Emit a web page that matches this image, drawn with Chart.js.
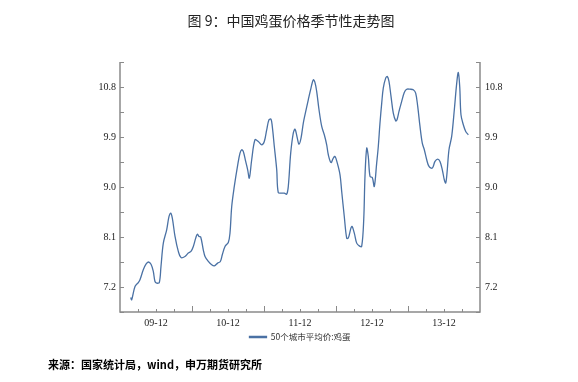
<!DOCTYPE html>
<html>
<head>
<meta charset="utf-8">
<script src="https://cdn.jsdelivr.net/npm/chart.js@4"></script>
<style>
html,body{margin:0;padding:0;background:#fff;}
#wrap{position:relative;width:578px;height:382px;overflow:hidden;}
#c{position:absolute;left:0;top:0;}
#title{position:absolute;top:13px;left:2px;width:578px;text-align:center;font:14px/14px "Noto Sans CJK SC",sans-serif;color:#222;}
#foot{position:absolute;top:359px;left:48px;font:bold 11px/11px "Noto Sans CJK SC",sans-serif;color:#000;white-space:nowrap;}
</style>
</head>
<body>
<div id="wrap">
<canvas id="c" width="578" height="382"></canvas>
<div id="title">图 9：中国鸡蛋价格季节性走势图</div>
<div id="foot">来源：国家统计局，wind，申万期货研究所</div>
</div>
<script>
// months since Jan 2009
const months = [1.78,1.95,2.5,3.05,3.33,3.88,4.33,4.72,5.17,5.55,5.83,6.12,6.55,6.83,7.22,7.78,8.17,8.45,8.72,9.17,
9.72,10.17,10.83,11.38,11.83,12.22,12.62,12.88,13.17,13.45,13.88,14.17,14.72,15.28,15.72,16.28,16.72,17.05,17.5,18.05,
18.33,18.62,19.05,19.62,20.0,20.28,20.55,20.95,21.28,21.55,21.95,22.5,23.05,23.62,24.05,24.45,24.83,25.17,25.38,25.72,
26.12,26.38,26.95,27.38,27.78,28.05,28.45,28.88,29.17,29.55,29.83,30.17,30.55,30.83,31.38,31.83,32.22,32.5,32.78,33.17,
33.62,34.05,34.45,34.72,35.17,35.55,35.83,36.22,36.67,36.95,37.38,37.78,38.05,38.62,39.05,39.45,39.88,40.28,40.62,40.83,
41.12,41.38,41.67,42.05,42.38,42.78,43.05,43.33,43.62,43.88,44.28,44.55,44.83,45.17,45.55,45.95,46.17,46.5,46.95,47.38,
47.78,48.33,48.88,49.28,49.62,50.0,50.38,50.72,51.12,51.5,52.05,52.5,52.95,53.33,53.72,54.05,54.28,54.5,54.83,55.28,
55.72,56.12,56.38,56.62,56.83,57.22,57.62,58.05];
const prices = [7.01,6.97,7.21,7.28,7.33,7.51,7.61,7.65,7.61,7.48,7.30,7.27,7.28,7.57,7.99,8.23,8.47,8.53,8.44,8.11,
7.84,7.73,7.75,7.81,7.84,7.93,8.08,8.15,8.11,8.10,7.87,7.75,7.66,7.60,7.58,7.63,7.66,7.78,7.93,8.00,
8.17,8.65,9.01,9.40,9.61,9.67,9.64,9.46,9.31,9.16,9.49,9.85,9.82,9.76,9.82,10.03,10.21,10.22,10.09,9.73,
9.31,8.90,8.89,8.89,8.87,9.01,9.61,9.97,10.04,9.88,9.77,9.88,10.15,10.30,10.57,10.78,10.93,10.88,10.72,10.39,
10.09,9.94,9.76,9.58,9.44,9.52,9.55,9.43,9.22,8.92,8.47,8.08,8.08,8.29,8.17,7.99,7.94,7.93,8.41,9.19,
9.70,9.55,9.19,9.17,9.01,9.43,9.73,10.15,10.51,10.78,10.96,10.99,10.90,10.63,10.33,10.19,10.21,10.36,10.54,10.70,
10.76,10.76,10.75,10.69,10.45,10.09,9.79,9.67,9.49,9.37,9.34,9.46,9.50,9.46,9.31,9.13,9.07,9.25,9.67,9.91,
10.39,10.87,11.06,10.81,10.30,10.12,10.00,9.94];
const seriesName = '50个城市平均价:鸡蛋';
const xTickPositions = [6, 18, 30, 42, 54];
const xTickLabels = ['09-12', '10-12', '11-12', '12-12', '13-12'];
const yTickValues = [7.2, 8.1, 9.0, 9.9, 10.8];
const yMin = 6.75, yMax = 11.25, yMinorStep = 0.45;
const xMin = 0, xMax = 60, xMinorStep = 3, xMajorStep = 12;

const lineColor = '#4a71a4';
const axisColor = '#8a8a8a';

const axisPlugin = {
  id: 'axisLines',
  afterDraw(chart) {
    const {ctx, chartArea: {left, right, top, bottom}, scales: {x, y}} = chart;
    ctx.save();
    ctx.strokeStyle = axisColor;
    ctx.lineWidth = 1.5;
    ctx.beginPath();
    ctx.moveTo(left, top); ctx.lineTo(left, bottom); ctx.lineTo(right, bottom); ctx.lineTo(right, top);
    ctx.stroke();
    ctx.lineWidth = 1;
    ctx.beginPath();
    for (let v = yMin; v <= yMax + 1e-9; v += yMinorStep) {
      const py = Math.round(y.getPixelForValue(v)) + 0.5;
      ctx.moveTo(left, py); ctx.lineTo(left + 4, py);
      ctx.moveTo(right, py); ctx.lineTo(right - 4, py);
    }
    for (let m = xMin + xMinorStep; m < xMax; m += xMinorStep) {
      const px = Math.round(x.getPixelForValue(m)) + 0.5;
      const len = (m % xMajorStep === 0) ? 6 : 3;
      ctx.moveTo(px, bottom); ctx.lineTo(px, bottom - len);
    }
    ctx.stroke();
    ctx.restore();
  }
};

const tickFont = {family: '"Liberation Serif", "Times New Roman", serif', size: 10};

new Chart(document.getElementById('c'), {
  type: 'line',
  data: {
    datasets: [{
      label: seriesName,
      data: months.map((m, i) => ({x: m, y: prices[i]})),
      borderColor: lineColor,
      backgroundColor: lineColor,
      borderWidth: 1.3,
      pointRadius: 0,
      tension: 0.35,
      fill: false
    }]
  },
  plugins: [axisPlugin],
  options: {
    responsive: false,
    animation: false,
    devicePixelRatio: 1,
    layout: {padding: {left: 22, right: 0, top: 62, bottom: 30.75}},
    plugins: {
      title: {display: false},
      tooltip: {enabled: false},
      legend: {
        display: true,
        position: 'bottom',
        labels: {
          boxWidth: 17,
          boxHeight: 1,
          padding: 6,
          color: '#333',
          font: {family: '"Noto Sans CJK SC", sans-serif', size: 8.5}
        }
      }
    },
    scales: {
      x: {
        type: 'linear',
        min: xMin, max: xMax,
        grid: {display: false, drawTicks: false},
        border: {display: false},
        afterBuildTicks(scale) { scale.ticks = xTickPositions.map(v => ({value: v})); },
        afterFit(scale) { scale.height = 14.75; },
        ticks: {
          padding: 5,
          maxRotation: 0,
          autoSkip: false,
          color: '#222',
          font: tickFont,
          callback: (v) => { const i = xTickPositions.indexOf(v); return i >= 0 ? xTickLabels[i] : ''; }
        }
      },
      y: {
        type: 'linear',
        position: 'left',
        min: yMin, max: yMax,
        grid: {display: false, drawTicks: false},
        border: {display: false},
        afterBuildTicks(scale) { scale.ticks = yTickValues.map(v => ({value: v})); },
        afterFit(scale) { scale.width = 98; },
        ticks: {padding: 4, color: '#222', font: tickFont, callback: (v) => v.toFixed(1)}
      },
      y2: {
        type: 'linear',
        position: 'right',
        min: yMin, max: yMax,
        grid: {display: false, drawTicks: false},
        border: {display: false},
        afterBuildTicks(scale) { scale.ticks = yTickValues.map(v => ({value: v})); },
        afterFit(scale) { scale.width = 98; },
        ticks: {padding: 5, color: '#222', font: tickFont, callback: (v) => v.toFixed(1)}
      }
    }
  }
});
</script>
</body>
</html>
